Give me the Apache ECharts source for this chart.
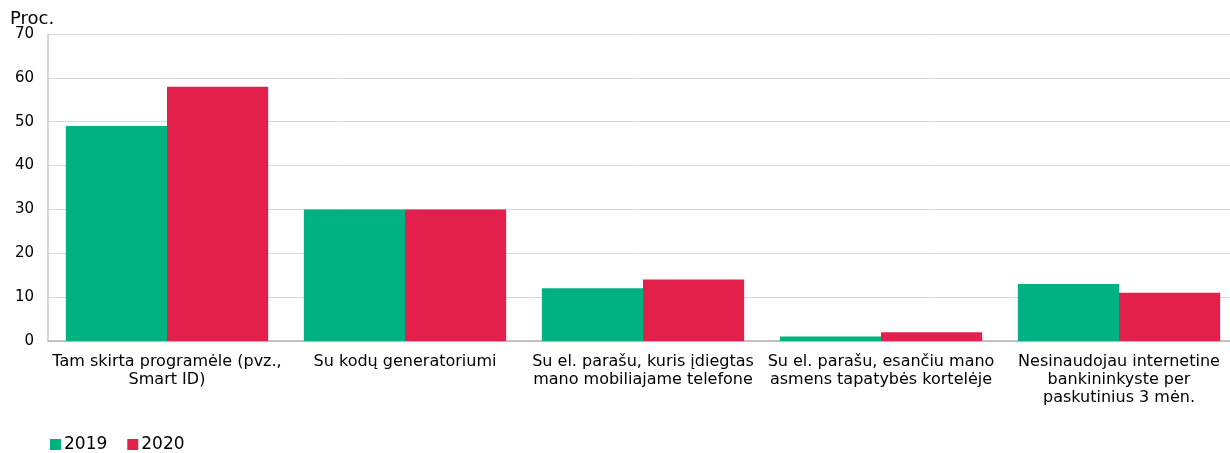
<!DOCTYPE html>
<html>
<head>
<meta charset="utf-8">
<script src="https://cdn.jsdelivr.net/npm/echarts@6/dist/echarts.min.js"></script>
<style>
  html, body { margin: 0; padding: 0; background: #fff; }
  #chart { width: 1230px; height: 453px; }
</style>
</head>
<body>
<div id="chart"></div>
<script>
// chart data
const categories = [
    'Tam skirta programėle (pvz.,\nSmart ID)',
    'Su kodų generatoriumi',
    'Su el. parašu, kuris įdiegtas\nmano mobiliajame telefone',
    'Su el. parašu, esančiu mano\nasmens tapatybės kortelėje',
    'Nesinaudojau internetine\nbankininkyste per\npaskutinius 3 mėn.'
];
const values2019 = [49, 30, 12, 1, 13];
const values2020 = [58, 30, 14, 2, 11];
const seriesNames = ['2019', '2020'];

const font = 'DejaVu Sans, Verdana, sans-serif';

const myChart = echarts.init(document.getElementById('chart'), null, { renderer: 'canvas' });

const option = {
    animation: false,
    color: ['#00b182', '#e31f4b'],
    textStyle: { fontFamily: font },
    title: {
        text: 'Proc.',
        left: 5,
        top: 5,
        textStyle: { fontFamily: font, fontSize: 18, fontWeight: 'normal', color: '#000' }
    },
    legend: {
        left: 45,
        top: 431,
        itemWidth: 11,
        itemHeight: 11,
        itemGap: 20,
        icon: 'rect',
        textStyle: { fontFamily: font, fontSize: 17, color: '#000', padding: [0, 0, 0, -2] },
        data: seriesNames
    },
    // chart runs past the right edge a bit, like in the original
    grid: { left: 48, width: 1190, top: 34, bottom: 112, containLabel: false, outerBoundsMode: 'none' },
    xAxis: {
        type: 'category',
        data: categories,
        axisLine: { lineStyle: { color: '#b3b3b3', width: 1.5 } },
        axisTick: { show: false },
        axisLabel: {
            interval: 0,
            margin: 12,
            color: '#000',
            fontFamily: font,
            fontSize: 16,
            lineHeight: 18
        }
    },
    yAxis: {
        type: 'value',
        min: 0,
        max: 70,
        interval: 10,
        axisLine: { show: true, lineStyle: { color: '#c8c8c8', width: 1.5 } },
        axisTick: { show: false },
        splitLine: { lineStyle: { color: '#d9d9d9' } },
        axisLabel: { margin: 14, color: '#000', fontFamily: font, fontSize: 15 }
    },
    series: [
        {
            name: seriesNames[0],
            type: 'bar',
            data: values2019,
            barGap: '0%',
            barCategoryGap: '15%'
        },
        {
            name: seriesNames[1],
            type: 'bar',
            data: values2020,
            barGap: '0%',
            barCategoryGap: '15%'
        }
    ]
};

myChart.setOption(option);
</script>
</body>
</html>
